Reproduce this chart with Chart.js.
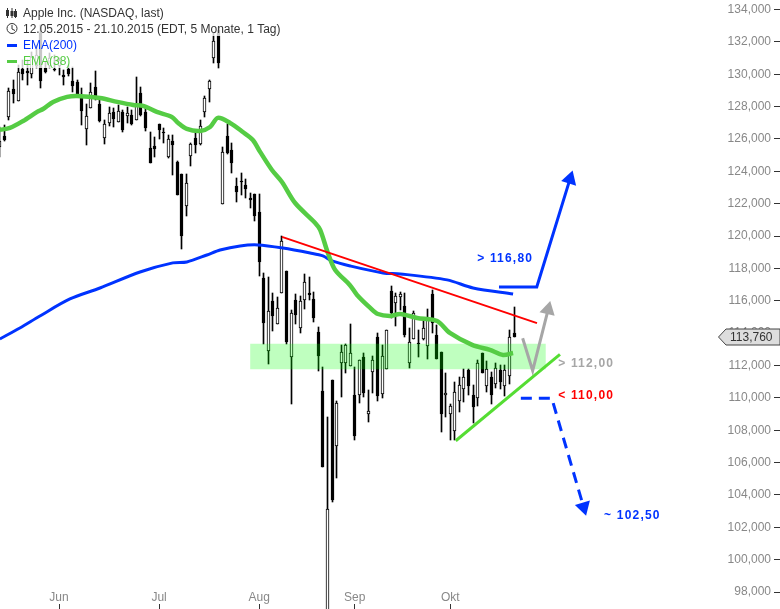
<!DOCTYPE html>
<html>
<head>
<meta charset="utf-8">
<title>Apple Inc.</title>
<script src="https://cdn.jsdelivr.net/npm/chart.js@4/dist/chart.umd.min.js"></script>
<style>
  html, body { margin: 0; padding: 0; background: #fff; }
  canvas { display: block; }
</style>
</head>
<body>
<canvas id="chart" width="780" height="609"></canvas>
<script>
// one candle per trading day, 12.05.2015 - 21.10.2015
const candleOpen = [
  125.51,126.19,127.36,129.09,128.35,130.33,130.20,130.02,130.51,132.55,
  130.39,130.51,130.33,130.51,129.95,130.33,129.58,129.52,128.60,126.62,
  127.92,129.21,128.16,126.06,126.99,127.67,127.05,127.67,127.42,127.48,
  127.17,128.84,127.67,125.44,125.57,126.93,126.43,124.89,125.88,124.58,
  123.84,121.86,124.95,126.06,125.69,127.67,129.09,131.01,132.74,121.98,
  126.19,125.32,123.10,123.40,123.16,122.35,122.60,121.49,117.41,112.90,
  115.99,114.57,116.48,117.84,112.53,116.05,114.32,116.05,116.48,116.11,
  114.07,110.43,96.00,111.11,107.03,112.16,112.16,111.97,110.18,110.18,
  112.53,109.00,111.60,113.76,110.24,111.79,116.61,115.86,116.24,115.68,
  112.16,113.64,113.39,113.64,113.21,116.42,113.89,112.84,110.18,109.00,
  107.95,109.81,110.55,111.72,110.18,109.99,112.77,110.74,111.29,110.86,
  111.72,110.74,111.35,114.01
];
const candleHigh = [
  126.74,126.86,129.15,129.65,130.57,130.88,130.88,131.38,131.81,133.04,
  130.76,131.31,131.19,131.01,130.26,130.57,130.45,129.65,129.15,128.16,
  129.46,130.20,128.41,127.17,127.98,127.92,128.10,127.79,127.98,127.79,
  129.83,129.21,128.04,126.43,126.12,126.93,126.68,126.25,126.25,124.64,
  123.84,123.84,125.75,126.49,127.17,128.66,129.65,132.55,132.92,125.50,
  126.93,125.75,123.59,123.90,123.53,122.66,122.60,122.60,117.72,117.47,
  116.48,116.24,120.01,117.84,115.43,116.42,116.30,117.66,117.47,116.54,
  114.38,111.91,108.82,111.11,109.81,113.27,113.33,114.57,111.91,112.34,
  112.77,110.49,112.59,114.01,113.27,114.20,116.92,116.48,116.54,116.48,
  114.32,115.37,114.20,114.94,115.49,116.67,114.50,112.84,111.54,109.62,
  110.98,111.29,111.79,111.79,110.80,112.34,112.77,112.28,111.60,112.16,
  112.03,112.03,114.20,115.62
];
const candleLow = [
  124.89,125.88,127.17,128.22,128.35,129.65,129.34,129.77,130.39,129.15,
  130.08,130.39,130.20,129.95,129.34,129.89,128.90,128.72,126.86,125.63,
  127.92,128.41,127.05,125.69,126.80,126.74,127.05,126.43,126.99,126.87,
  127.17,127.42,126.49,124.52,124.89,126.00,125.75,124.83,123.78,122.54,
  119.20,121.24,124.33,125.14,125.63,127.36,128.29,130.70,130.39,121.98,
  125.07,123.90,122.11,122.54,122.35,121.74,120.93,117.53,113.33,112.09,
  114.13,114.57,116.48,113.33,109.62,114.57,114.01,115.49,116.05,114.69,
  111.66,105.73,96.00,103.57,105.05,110.06,111.54,111.97,107.40,109.68,
  110.06,108.51,110.30,109.81,109.99,111.79,114.94,114.44,115.43,113.76,
  111.85,113.64,112.53,113.58,112.40,114.01,112.40,107.89,108.82,107.40,
  107.40,109.13,109.75,110.18,108.45,109.50,111.54,110.36,109.62,110.61,
  110.55,110.12,110.86,113.76
];
const candleClose = [
  125.88,125.94,128.97,128.78,130.14,130.02,130.08,131.07,131.19,129.58,
  130.14,131.01,130.26,130.88,129.83,130.02,129.27,128.78,127.73,127.42,
  128.90,128.60,127.11,126.93,127.61,127.24,127.73,126.56,127.61,126.93,
  128.10,127.48,126.68,124.52,125.38,126.56,126.37,126.00,125.63,122.54,
  120.00,123.28,125.69,125.63,126.80,128.53,129.58,132.06,130.70,125.20,
  125.13,124.52,122.72,123.34,122.91,122.23,121.24,118.40,114.63,115.37,
  115.06,115.56,119.70,113.45,115.25,115.12,115.99,117.16,116.36,114.94,
  112.59,105.73,103.13,103.69,109.68,112.84,113.27,112.77,107.65,112.34,
  110.30,109.19,112.34,110.12,112.59,114.20,115.25,116.30,116.42,113.89,
  113.45,115.25,113.33,114.32,114.81,114.63,112.40,109.00,110.30,109.50,
  110.36,110.80,111.29,110.74,109.44,112.16,111.54,111.79,110.18,111.85,
  110.98,111.72,113.76,113.76
];

const ema200X = [0,4.4,8.8,15.4,22,30.8,38,41.1,45.5,48.4,52.8,56.7,62.2,68.2,71,73,77,84.2,88,98.3,104,112.8];
const ema200Y = [113.64,114.32,115.06,116.11,116.79,117.78,118.34,118.40,118.83,119.14,119.39,119.45,119.26,118.95,118.77,118.46,118.15,117.72,117.66,117.29,116.79,116.42];
const ema38X = [0,2.2,5.1,8.2,9.5,11.7,14.8,17,22,25.8,29.3,31.5,34.5,37.8,39.2,41.1,44,46.2,47.9,50.6,53.4,55.6,57.2,59.8,62,64.9,69.3,70.4,72.1,73.7,76.9,78.5,81.4,83.1,85.7,88,91.7,96.1,98.9,103.8,107.7,110.6,112.8];
const ema38Y = [126.56,126.68,127.11,127.67,127.85,128.29,128.60,128.66,128.53,128.29,128.10,128.04,127.67,127.36,126.99,126.62,126.49,126.74,127.30,126.99,126.43,125.94,125.20,124.08,123.34,122.04,120.81,120.38,118.95,117.90,116.98,116.36,115.56,115.18,115.06,115.18,114.94,114.75,114.01,113.27,112.96,112.65,112.77];

// drawn-in analysis: resistance, support, zone, scenario arrows
const resistanceX = [62, 118.05], resistanceY = [119.95, 114.62];
const supportX = [100.2, 123.1], supportY = [107.35, 112.69];
const zoneX = [55, 120], zoneTop = 113.35, zoneBottom = 111.76;
const upArrowX = [109.7, 118, 125.3], upArrowY = [116.85, 116.85, 123.52];
const greyArrowX = [114.9, 117.1, 120.5], greyArrowY = [113.68, 111.68, 115.45];
const downArrowX = [114.5, 121.3, 128.3], downArrowY = [109.97, 109.97, 103.25];

const noteText = ['> 116,80', '> 112,00', '< 110,00', '~ 102,50'];
const noteX = [104.9, 122.7, 122.7, 132.8];
const noteY = [118.59, 112.10, 110.12, 102.70];
const noteColor = ['#0033ff', '#a6a6a6', '#ff0000', '#0033ff'];

const yTicks = [98,100,102,104,106,108,110,112,114,116,118,120,122,124,126,128,130,132,134];
const monthTicks = [13, 35, 57, 78, 99];
const monthLabels = ['Jun', 'Jul', 'Aug', 'Sep', 'Okt'];
const lastPrice = 113.76;

const BLUE = '#0033ff', GREEN = '#55cc44', FONT = '"Liberation Sans"';

const zip = (xs, ys) => xs.map((x, i) => ({ x: x, y: ys[i] }));
const days = candleOpen.map((_, i) => i);

const lineStyle = { pointRadius: 0, fill: false, type: 'line', clip: false };

// snap the bars to whole pixels, the original is not antialiased
const snapCandles = {
  id: 'snapCandles',
  beforeDatasetsDraw(chart) {
    chart.data.datasets.forEach((ds, d) => {
      if (ds.type !== 'bar') return;
      chart.getDatasetMeta(d).data.forEach(el => {
        el.x = Math.floor(el.x) + 0.5;
        const top = Math.round(Math.min(el.y, el.base));
        let bottom = Math.round(Math.max(el.y, el.base));
        if (bottom === top) bottom = top + 1;
        el.y = top;
        el.base = bottom;
      });
    });
  }
};

const header = {
  id: 'header',
  afterDatasetsDraw(chart) {
    const ctx = chart.ctx, xs = chart.scales.x, ys = chart.scales.y;
    ctx.save();
    // the legend box fades what runs behind it
    ctx.fillStyle = 'rgba(255,255,255,0.78)';
    ctx.fillRect(0, 0, 285, 36);
    ctx.fillRect(0, 36, 78, 32);

    ctx.textBaseline = 'middle';
    ctx.textAlign = 'left';
    ctx.font = '12px ' + FONT;
    ctx.fillStyle = '#333';
    ctx.fillText('Apple Inc. (NASDAQ, last)', 23, 14);
    ctx.fillText('12.05.2015 - 21.10.2015 (EDT, 5 Monate, 1 Tag)', 23, 30);
    ctx.fillStyle = BLUE;
    ctx.fillText(chart.data.datasets[3].label, 23, 46);
    ctx.fillStyle = GREEN;
    ctx.fillText(chart.data.datasets[4].label, 23, 62);
    ctx.fillStyle = BLUE;
    ctx.fillRect(7, 44, 10, 3);
    ctx.fillStyle = GREEN;
    ctx.fillRect(7, 60, 10, 3);

    // little candle icon and clock
    ctx.strokeStyle = '#333';
    ctx.fillStyle = '#333';
    ctx.lineWidth = 1;
    ctx.strokeRect(6.5, 10.5, 2, 5);
    ctx.fillRect(10.5, 11, 3, 5);
    ctx.strokeRect(14.5, 11.5, 2, 5);
    ctx.beginPath();
    ctx.moveTo(7.5, 8); ctx.lineTo(7.5, 18);
    ctx.moveTo(12, 8); ctx.lineTo(12, 18);
    ctx.moveTo(15.5, 9); ctx.lineTo(15.5, 18);
    ctx.stroke();
    ctx.beginPath();
    ctx.arc(12, 28.5, 5, 0, Math.PI * 2);
    ctx.moveTo(12, 25); ctx.lineTo(12, 29); ctx.lineTo(15, 30.5);
    ctx.stroke();

    // target labels
    ctx.font = 'bold 12px ' + FONT;
    ctx.letterSpacing = '1.2px';
    noteText.forEach((t, i) => {
      ctx.fillStyle = noteColor[i];
      ctx.fillText(t, xs.getPixelForValue(noteX[i]), ys.getPixelForValue(noteY[i]));
    });
    ctx.restore();
  },
  afterDraw(chart) {
    // last price tag on the axis
    const ctx = chart.ctx, y = chart.scales.y.getPixelForValue(lastPrice);
    ctx.save();
    ctx.beginPath();
    ctx.moveTo(718.5, y);
    ctx.lineTo(726, y - 8);
    ctx.lineTo(780, y - 8);
    ctx.lineTo(780, y + 8);
    ctx.lineTo(726, y + 8);
    ctx.closePath();
    ctx.fillStyle = '#dddddd';
    ctx.fill();
    ctx.strokeStyle = '#444';
    ctx.lineWidth = 1;
    ctx.stroke();
    ctx.fillStyle = '#333';
    ctx.font = '12px ' + FONT;
    ctx.textAlign = 'left';
    ctx.textBaseline = 'middle';
    ctx.fillText(lastPrice.toFixed(3).replace('.', ','), 730, y + 0.5);
    ctx.restore();
  }
};

new Chart(document.getElementById('chart').getContext('2d'), {
  data: {
    datasets: [
      {
        type: 'bar', label: 'wicks', order: 6, grouped: false, barThickness: 1, clip: false,
        data: days.map(i => ({ x: i, y: [candleLow[i], candleHigh[i]] })),
        backgroundColor: '#000'
      },
      {
        type: 'bar', label: 'bodies', order: 5, grouped: false, barThickness: 3, clip: false,
        data: days.map(i => ({ x: i, y: [candleOpen[i], candleClose[i]] })),
        backgroundColor: days.map(i => candleClose[i] < candleOpen[i] ? '#000' : '#fff'),
        borderColor: '#000', borderWidth: 1, borderSkipped: false
      },
      {
        ...lineStyle, label: 'zone', order: 4, borderWidth: 0,
        data: zip(zoneX, [zoneTop, zoneTop]),
        fill: { value: zoneBottom }, backgroundColor: 'rgba(0,255,0,0.25)'
      },
      { ...lineStyle, label: 'EMA(200)', order: 3, borderColor: BLUE, borderWidth: 3, tension: 0.3, data: zip(ema200X, ema200Y) },
      { ...lineStyle, label: 'EMA(38)', order: 2, borderColor: GREEN, borderWidth: 4.5, tension: 0.3, data: zip(ema38X, ema38Y) },
      { ...lineStyle, label: 'resistance', order: 1, borderColor: '#ff0000', borderWidth: 2, data: zip(resistanceX, resistanceY) },
      { ...lineStyle, label: 'support', order: 1, borderColor: '#55dd33', borderWidth: 3, data: zip(supportX, supportY) },
      {
        ...lineStyle, label: 'up', order: 1, borderColor: BLUE, borderWidth: 3, data: zip(upArrowX, upArrowY),
        pointRadius: [0, 0, 9], pointStyle: 'triangle', pointRotation: [0, 0, 17],
        pointBackgroundColor: BLUE, pointBorderWidth: 0
      },
      {
        ...lineStyle, label: 'grey', order: 1, borderColor: '#a6a6a6', borderWidth: 3, data: zip(greyArrowX, greyArrowY),
        pointRadius: [0, 0, 9], pointStyle: 'triangle', pointRotation: [0, 0, 13.5],
        pointBackgroundColor: '#a6a6a6', pointBorderWidth: 0
      },
      {
        ...lineStyle, label: 'down', order: 1, borderColor: BLUE, borderWidth: 3, borderDash: [11, 7], data: zip(downArrowX, downArrowY),
        pointRadius: [0, 0, 9], pointStyle: 'triangle', pointRotation: [0, 0, 164],
        pointBackgroundColor: BLUE, pointBorderWidth: 0
      }
    ]
  },
  options: {
    responsive: false,
    animation: false,
    devicePixelRatio: 1,
    layout: { padding: 0, autoPadding: false },
    plugins: { legend: { display: false }, tooltip: { enabled: false } },
    scales: {
      x: {
        type: 'linear',
        min: 0.033,
        max: 170.14,
        offset: false,
        border: { display: false },
        grid: { offset: false, drawOnChartArea: false, tickLength: 5, tickColor: '#333' },
        afterBuildTicks: s => { s.ticks = monthTicks.map(v => ({ value: v })); },
        afterFit: s => { s.height = 5; s.paddingLeft = s.paddingRight = s.paddingTop = s.paddingBottom = 0; },
        ticks: {
          mirror: true, autoSkip: false, maxRotation: 0, padding: -1,
          color: '#888', font: { family: FONT, size: 12 },
          callback: (v, i) => monthLabels[i]
        }
      },
      y: {
        position: 'right',
        min: 97.26,
        max: 134.587,
        border: { display: false },
        grid: { drawOnChartArea: false, tickLength: 6, tickColor: '#333' },
        afterBuildTicks: s => { s.ticks = yTicks.map(v => ({ value: v })); },
        afterFit: s => { s.width = 6; s.paddingLeft = s.paddingRight = s.paddingTop = s.paddingBottom = 0; },
        ticks: {
          mirror: true, padding: -3, autoSkip: false,
          color: '#888', font: { family: FONT, size: 12 },
          callback: v => v.toFixed(3).replace('.', ',')
        }
      }
    }
  },
  plugins: [snapCandles, header]
});
</script>
</body>
</html>
